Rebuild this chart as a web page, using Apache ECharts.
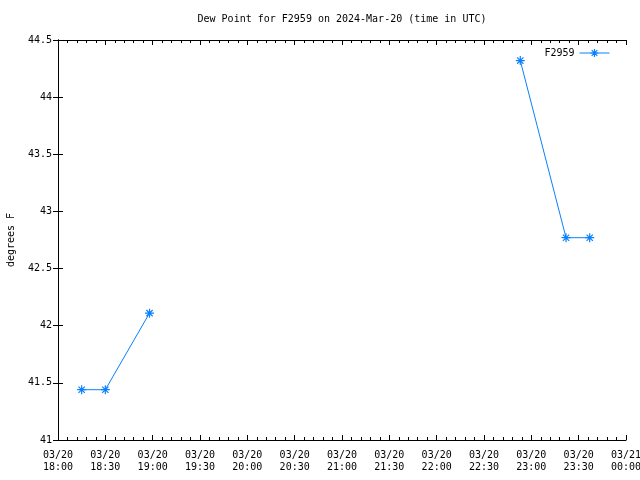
<!DOCTYPE html>
<html><head><meta charset="utf-8">
<script src="https://cdn.jsdelivr.net/npm/echarts@6/dist/echarts.min.js"></script>
<style>html,body{margin:0;padding:0;background:#fff}#c{width:640px;height:480px}</style>
</head><body><div id="c"></div>
<script>
// Data (times in UTC on 2024-03-20)
const times = ['18:15', '18:30', '18:58', '22:53', '23:22', '23:37'];
const dewPointF = [41.44, 41.44, 42.11, 44.32, 42.77, 42.77];
const segmentId = [0, 0, 0, 1, 1, 1];
const xTickLabels = ['03/20\n18:00','03/20\n18:30','03/20\n19:00','03/20\n19:30','03/20\n20:00','03/20\n20:30','03/20\n21:00','03/20\n21:30','03/20\n22:00','03/20\n22:30','03/20\n23:00','03/20\n23:30','03/21\n00:00'];
const yTicks = [41, 41.5, 42, 42.5, 43, 43.5, 44, 44.5];

const startMin = 18 * 60;
function toMin(t) { const p = t.split(':'); return +p[0] * 60 + +p[1] - startMin; }
const seriesData = [];
for (let i = 0; i < times.length; i++) {
  if (i > 0 && segmentId[i] !== segmentId[i - 1]) seriesData.push([(toMin(times[i]) + toMin(times[i - 1])) / 2, '-']);
  seriesData.push([toMin(times[i]), dewPointF[i]]);
}
const FONT = 'DejaVu Sans Mono';
const color = '#0a80ff';
const star = 'path://M0,5L10,5M5,0L5,10M1.5,1.5L8.5,8.5M8.5,1.5L1.5,8.5';
const chart = echarts.init(document.getElementById('c'), null, { renderer: 'canvas' });
const axisLine = { show: true, lineStyle: { color: '#000', width: 1 } };
chart.setOption({
  animation: false,
  backgroundColor: '#fff',
  textStyle: { fontFamily: FONT, fontSize: 10, color: '#000' },
  title: {
    text: 'Dew Point for F2959 on 2024-Mar-20 (time in UTC)',
    left: 337, top: 9, textAlign: 'center',
    textStyle: { fontFamily: FONT, fontSize: 10, fontWeight: 'normal', color: '#000' }
  },
  legend: {
    right: 25, top: 43, align: 'right', itemWidth: 30, itemHeight: 10, itemGap: 6,
    textStyle: { fontFamily: FONT, fontSize: 10, color: '#000' },
    itemStyle: { color: 'transparent', borderColor: color, borderWidth: 1.2 },
    lineStyle: { color: color, width: 1 },
    data: ['F2959']
  },
  grid: { left: 58, right: 14, top: 40, bottom: 40, containLabel: false, outerBoundsMode: 'none' },
  xAxis: [{
    type: 'value', min: 0, max: 360, interval: 30,
    axisLine: axisLine,
    axisTick: { show: true, inside: true, length: 5, lineStyle: { color: '#000' } },
    minorTick: { show: true, splitNumber: 5, length: 3, lineStyle: { color: '#000' } },
    splitLine: { show: false },
    axisLabel: {
      margin: 9, fontFamily: FONT, fontSize: 10, color: '#000', lineHeight: 12,
      formatter: v => xTickLabels[Math.round(v / 30)] || ''
    }
  }, {
    type: 'value', min: 0, max: 360, interval: 30, position: 'top',
    axisLine: axisLine,
    axisTick: { show: true, inside: true, length: 5, lineStyle: { color: '#000' } },
    minorTick: { show: true, splitNumber: 5, length: 3, lineStyle: { color: '#000' } },
    splitLine: { show: false }, axisLabel: { show: false }
  }],
  yAxis: [{
    type: 'value', min: yTicks[0], max: yTicks[yTicks.length - 1], interval: 0.5,
    name: 'degrees F', nameLocation: 'middle', nameGap: 42, nameRotate: 90,
    nameTextStyle: { fontFamily: FONT, fontSize: 10, color: '#000' },
    axisLine: axisLine,
    axisTick: { show: true, inside: true, length: 5, lineStyle: { color: '#000' } },
    splitLine: { show: false },
    axisLabel: { margin: 6, fontFamily: FONT, fontSize: 10, color: '#000' }
  }, {
    type: 'value', min: yTicks[0], max: yTicks[yTicks.length - 1], interval: 0.5, position: 'right',
    axisLine: axisLine,
    axisTick: { show: true, inside: true, length: 5, lineStyle: { color: '#000' } },
    splitLine: { show: false }, axisLabel: { show: false }
  }],
  series: [{
    name: 'F2959', type: 'line', xAxisIndex: 0, yAxisIndex: 0,
    data: seriesData, connectNulls: false,
    symbol: star, symbolSize: 9, showAllSymbol: true,
    lineStyle: { color: color, width: 1 },
    itemStyle: { color: 'transparent', borderColor: color, borderWidth: 1.2 },
    emphasis: { disabled: true }
  }]
});
</script></body></html>
